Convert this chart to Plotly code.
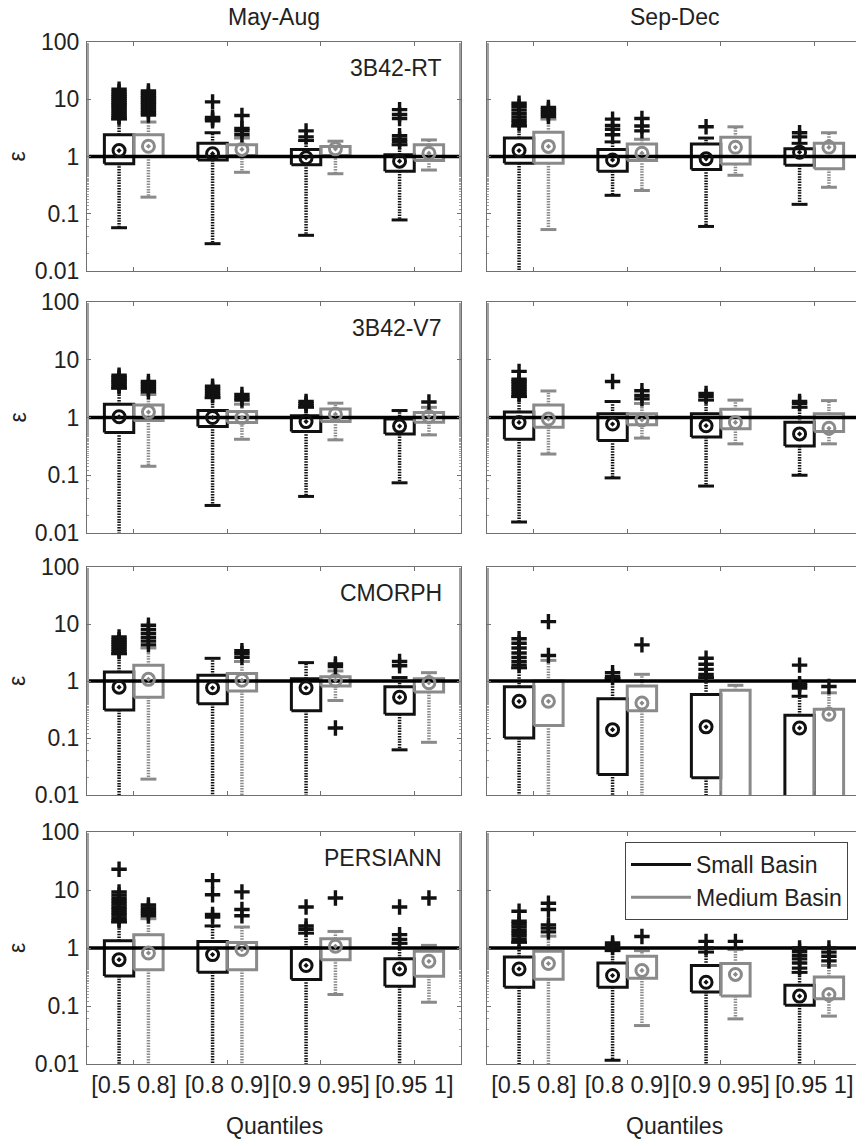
import plotly.graph_objects as go

W, H = 856, 1139
FONT = "Liberation Sans, Arial, Helvetica, sans-serif"

# ---------------- data ----------------
seasons = ["May-Aug", "Sep-Dec"]
products = ["3B42-RT", "3B42-V7", "CMORPH", "PERSIANN"]
quantile_labels = ["[0.5 0.8]", "[0.8 0.9]", "[0.9 0.95]", "[0.95 1]"]
basins = ["Small Basin", "Medium Basin"]
y_tick_vals = [0.01, 0.1, 1, 10, 100]
y_tick_text = ["0.01", "0.1", "1", "10", "100"]

# lo = lower whisker, q1, med, q3, hi = upper whisker, out = outliers ("+")
# (values below 0.01 fall off the bottom of the axis, as in the original)
rt_may_small = dict(
    lo=[0.057, 0.030, 0.042, 0.078], q1=[0.75, 0.87, 0.72, 0.55],
    med=[1.27, 1.12, 0.95, 0.83], q3=[2.4, 1.7, 1.32, 1.07], hi=[4.5, 2.6, 1.9, 1.6],
    out=[[4.8, 5.2, 5.7, 6.2, 6.8, 7.4, 8.0, 8.7, 9.5, 10.3, 11.2, 12.2, 13.5, 15.0],
         [4.2, 4.5, 4.8, 9.0], [2.2, 2.8], [1.8, 2.0, 2.3, 4.6, 5.4, 6.6]])
rt_may_medium = dict(
    lo=[0.195, 0.53, 0.50, 0.58], q1=[1.0, 1.04, 1.04, 0.85],
    med=[1.51, 1.33, 1.36, 1.14], q3=[2.4, 1.6, 1.5, 1.6], hi=[4.0, 2.1, 1.85, 1.95],
    out=[[5.3, 5.8, 6.5, 7.2, 8.0, 8.8, 9.7, 10.6, 11.6, 12.8, 14.0],
         [2.4, 2.8, 3.1, 5.2], [], []])
rt_sep_small = dict(
    lo=[0.005, 0.21, 0.06, 0.146], q1=[0.76, 0.55, 0.59, 0.70],
    med=[1.27, 0.87, 0.91, 1.19], q3=[2.1, 1.32, 1.66, 1.36], hi=[3.4, 1.8, 2.1, 1.7],
    out=[[3.8, 4.3, 4.9, 5.6, 6.5, 7.5, 8.5], [2.4, 3.0, 3.5, 4.5], [3.3], [2.2, 2.6]])
rt_sep_medium = dict(
    lo=[0.053, 0.255, 0.47, 0.29], q1=[0.76, 0.85, 0.74, 0.61],
    med=[1.5, 1.14, 1.45, 1.45], q3=[2.66, 1.66, 2.17, 1.71], hi=[4.5, 2.0, 3.3, 2.6],
    out=[[5.0, 5.5, 6.0, 6.6, 7.2], [2.8, 3.4, 4.6], [], []])

v7_may_small = dict(
    lo=[0.005, 0.030, 0.043, 0.074], q1=[0.55, 0.70, 0.57, 0.52],
    med=[1.03, 1.0, 0.85, 0.71], q3=[1.7, 1.32, 1.07, 0.94], hi=[3.2, 2.2, 1.5, 1.32],
    out=[[3.4, 3.7, 4.0, 4.3, 4.6, 5.0, 5.4], [2.4, 2.6, 2.9, 3.2, 3.5],
         [1.6, 1.75, 1.9], []])
v7_may_medium = dict(
    lo=[0.143, 0.42, 0.41, 0.50], q1=[0.89, 0.82, 0.85, 0.83],
    med=[1.24, 1.0, 1.14, 1.04], q3=[1.65, 1.27, 1.41, 1.22], hi=[2.5, 1.7, 1.77, 1.5],
    out=[[2.8, 3.1, 3.4, 3.8, 4.2], [2.0, 2.2, 2.5], [], [1.85]])
v7_sep_small = dict(
    lo=[0.0155, 0.09, 0.065, 0.10], q1=[0.42, 0.40, 0.46, 0.32],
    med=[0.82, 0.77, 0.72, 0.52], q3=[1.24, 1.16, 1.16, 0.83], hi=[2.3, 1.89, 2.0, 1.5],
    out=[[2.5, 2.8, 3.1, 3.4, 3.8, 4.2, 4.6, 6.3], [4.2], [2.3, 2.6], [1.75, 1.9]])
v7_sep_medium = dict(
    lo=[0.233, 0.44, 0.35, 0.35], q1=[0.68, 0.75, 0.64, 0.57],
    med=[0.94, 0.91, 0.82, 0.65], q3=[1.65, 1.16, 1.39, 1.16], hi=[2.88, 1.75, 2.0, 1.96],
    out=[[], [2.1, 2.4, 2.9], [], []])

cm_may_small = dict(
    lo=[0.005, 0.005, 0.005, 0.062], q1=[0.31, 0.40, 0.30, 0.26],
    med=[0.78, 0.76, 0.76, 0.52], q3=[1.44, 1.26, 1.1, 0.79], hi=[3.0, 2.5, 2.1, 1.15],
    out=[[3.3, 3.6, 4.0, 4.4, 4.8, 5.3, 5.9], [], [], [1.85, 2.2]])
cm_may_medium = dict(
    lo=[0.019, 0.005, 0.455, 0.084], q1=[0.52, 0.67, 0.82, 0.64],
    med=[1.07, 1.03, 1.03, 0.93], q3=[1.89, 1.35, 1.19, 1.1], hi=[3.8, 2.2, 1.5, 1.4],
    out=[[4.3, 5.0, 5.8, 6.8, 8.0, 9.5], [2.6, 3.0, 3.4], [0.15, 1.8, 2.0], []])
cm_sep_small = dict(
    lo=[0.005, 0.005, 0.005, 0.005], q1=[0.10, 0.023, 0.020, 0.005],
    med=[0.44, 0.14, 0.157, 0.15], q3=[0.79, 0.49, 0.58, 0.25], hi=[1.7, 1.1, 1.15, 0.54],
    out=[[1.9, 2.2, 2.6, 3.1, 3.8, 4.6, 5.5], [1.2, 1.4], [1.3, 1.6, 1.97, 2.5],
         [0.75, 0.82, 0.9, 1.9]])
cm_sep_medium = dict(
    lo=[0.005, 0.005, 0.005, 0.005], q1=[0.165, 0.30, 0.005, 0.005],
    med=[0.44, 0.41, 0.004, 0.26], q3=[1.0, 0.82, 0.69, 0.32], hi=[2.3, 1.31, 0.84, 0.62],
    out=[[2.8, 11.0], [4.3], [], [0.8]])

pe_may_small = dict(
    lo=[0.005, 0.005, 0.005, 0.005], q1=[0.33, 0.38, 0.285, 0.22],
    med=[0.63, 0.77, 0.5, 0.435], q3=[1.34, 1.30, 1.0, 0.65], hi=[2.8, 2.4, 1.8, 1.2],
    out=[[3.0, 3.3, 3.7, 4.1, 4.6, 5.1, 5.7, 6.4, 7.2, 8.2, 9.3, 22.8],
         [3.4, 3.8, 8.3, 14.5], [2.1, 2.4, 5.1], [1.4, 1.7, 5.1]])
pe_may_medium = dict(
    lo=[0.005, 0.005, 0.158, 0.116], q1=[0.42, 0.42, 0.63, 0.325],
    med=[0.82, 0.94, 1.07, 0.59], q3=[1.69, 1.25, 1.45, 0.88], hi=[3.2, 2.3, 1.93, 1.11],
    out=[[3.6, 4.0, 4.4, 4.9, 5.5], [3.6, 4.6, 9.3], [7.3], [7.3]])
pe_sep_small = dict(
    lo=[0.005, 0.0116, 0.005, 0.005], q1=[0.21, 0.21, 0.175, 0.103],
    med=[0.435, 0.335, 0.257, 0.148], q3=[0.70, 0.55, 0.50, 0.228], hi=[1.25, 0.9, 0.85, 0.38],
    out=[[1.4, 1.6, 1.8, 2.0, 2.3, 2.6, 2.9, 4.3], [1.02, 1.12, 1.22], [1.0, 1.3],
         [0.45, 0.55, 0.65, 0.75, 0.88, 1.0]])
pe_sep_medium = dict(
    lo=[0.005, 0.046, 0.06, 0.067], q1=[0.29, 0.30, 0.148, 0.133],
    med=[0.54, 0.41, 0.35, 0.158], q3=[0.88, 0.72, 0.54, 0.317], hi=[1.6, 0.9, 0.94, 0.5],
    out=[[1.9, 2.2, 2.5, 4.6, 5.9], [1.58], [1.3], [0.6, 0.72, 0.85, 1.0]])

panel_data = [
    [(rt_may_small, rt_may_medium), (rt_sep_small, rt_sep_medium)],
    [(v7_may_small, v7_may_medium), (v7_sep_small, v7_sep_medium)],
    [(cm_may_small, cm_may_medium), (cm_sep_small, cm_sep_medium)],
    [(pe_may_small, pe_may_medium), (pe_sep_small, pe_sep_medium)],
]

# ---------------- layout geometry (pixels) ----------------
COL_X = [(87, 461), (487, 856)]
ROW_Y = [(42, 271), (302, 533), (567, 795), (832, 1064)]
UNIT = 93.5  # pixels per category
BOX_W = 0.314
CAP_HALF = 0.085
COLORS = ["#111111", "#8a8a8a"]
AXIS_COLOR = "#707070"
MINOR_COLOR = "#a0a0a0"
TXT = "#222222"
FS = 23

fig = go.Figure()
layout = dict(
    width=W, height=H, autosize=False,
    margin=dict(l=0, r=0, t=0, b=0, pad=0, autoexpand=False),
    paper_bgcolor="white", plot_bgcolor="white",
    font=dict(family=FONT, size=FS, color=TXT),
    showlegend=True,
)
annotations = []

for r in range(4):
    for c in range(2):
        n = r * 2 + c + 1
        xa = "x" if n == 1 else f"x{n}"
        ya = "y" if n == 1 else f"y{n}"
        xk = "xaxis" if n == 1 else f"xaxis{n}"
        yk = "yaxis" if n == 1 else f"yaxis{n}"
        px0, px1 = COL_X[c]
        py0, py1 = ROW_Y[r]
        xmax = 0.5 + (px1 - px0) / UNIT
        layout[xk] = dict(
            domain=[px0 / W, px1 / W], anchor=ya, range=[0.5, xmax],
            tickmode="array", tickvals=[1, 2, 3, 4],
            ticktext=quantile_labels if r == 3 else [""] * 4,
            showticklabels=(r == 3), ticks="inside", ticklen=4, tickcolor=AXIS_COLOR,
            showline=True, linecolor=AXIS_COLOR, linewidth=1, mirror="ticks",
            showgrid=False, zeroline=False, fixedrange=True, automargin=False,
            tickfont=dict(size=23.5, family=FONT, color=TXT), ticklabelstandoff=0,
        )
        layout[yk] = dict(
            domain=[1 - py1 / H, 1 - py0 / H], anchor=xa, type="log", range=[-2, 2],
            tickmode="array", tickvals=y_tick_vals, ticktext=y_tick_text,
            showticklabels=(c == 0), ticks="inside", ticklen=4, tickcolor=AXIS_COLOR,
            minor=dict(ticks="inside", ticklen=2, tickcolor=MINOR_COLOR, showgrid=False),
            showline=True, linecolor=AXIS_COLOR, linewidth=1,
            mirror=("ticks" if c == 0 else False),
            showgrid=False, zeroline=False, fixedrange=True, automargin=False,
            tickfont=dict(size=FS, family=FONT, color=TXT), ticklabelstandoff=2,
        )

        for b in range(2):
            st = panel_data[r][c][b]
            col = COLORS[b]
            off = (-0.5 if b == 0 else 0.5) * BOX_W
            bx, by, wx, wy, cx, cy = ([] for _ in range(6))
            for i in range(len(quantile_labels)):
                ctr = i + 1 + off
                x0, x1 = ctr - BOX_W / 2, ctr + BOX_W / 2
                bx += [x0, x1, x1, x0, x0, None]
                by += [st["q1"][i], st["q1"][i], st["q3"][i], st["q3"][i], st["q1"][i], None]
                wx += [ctr, ctr, None, ctr, ctr, None]
                wy += [st["q3"][i], st["hi"][i], None, st["q1"][i], st["lo"][i], None]
                cx += [ctr - CAP_HALF, ctr + CAP_HALF, None, ctr - CAP_HALF, ctr + CAP_HALF, None]
                cy += [st["hi"][i], st["hi"][i], None, st["lo"][i], st["lo"][i], None]
            fig.add_trace(go.Scatter(
                x=wx, y=wy, xaxis=xa, yaxis=ya, mode="lines", showlegend=False,
                hoverinfo="skip", line=dict(color=col, width=3.5, dash="1.5px,1.2px")))
            fig.add_trace(go.Scatter(
                x=bx, y=by, xaxis=xa, yaxis=ya, mode="lines", name=basins[b],
                legendgroup=basins[b], showlegend=(n == 1),
                line=dict(color=col, width=3)))
            fig.add_trace(go.Scatter(
                x=cx, y=cy, xaxis=xa, yaxis=ya, mode="lines", showlegend=False,
                hoverinfo="skip", line=dict(color=col, width=3)))
        # reference line at epsilon = 1
        fig.add_trace(go.Scatter(
            x=[0.5, 4.5], y=[1, 1], xaxis=xa, yaxis=ya, mode="lines",
            showlegend=False, hoverinfo="skip", line=dict(color="#000000", width=3.5)))
        for b in range(2):
            st = panel_data[r][c][b]
            col = COLORS[b]
            off = (-0.5 if b == 0 else 0.5) * BOX_W
            mx = [i + 1 + off for i in range(len(quantile_labels))]
            ox, oy = [], []
            for i in range(len(quantile_labels)):
                ox += [i + 1 + off] * len(st["out"][i])
                oy += st["out"][i]
            fig.add_trace(go.Scatter(
                x=mx, y=st["med"], xaxis=xa, yaxis=ya, mode="markers", showlegend=False,
                marker=dict(symbol="circle-open-dot", size=12, color=col,
                            line=dict(width=3, color=col))))
            fig.add_trace(go.Scatter(
                x=ox, y=oy, xaxis=xa, yaxis=ya, mode="markers", showlegend=False,
                marker=dict(symbol="cross-thin", size=11, color="#111111",
                            line=dict(width=3.4, color="#111111"))))

        if c == 0:
            # product label
            annotations.append(dict(
                text=products[r], xref=f"{xa} domain", yref=f"{ya} domain",
                x=0.955, y=1 - 26 / (py1 - py0), xanchor="right", yanchor="middle",
                showarrow=False, font=dict(size=FS, family=FONT, color=TXT)))
            # y-axis title (epsilon)
            annotations.append(dict(
                text="ε", xref="paper", yref="paper", x=17 / W,
                y=1 - (py0 + py1) / 2 / H, xanchor="center", yanchor="middle",
                textangle=-90, showarrow=False, font=dict(size=FS, family=FONT, color=TXT)))

for c in range(2):
    px0, px1 = COL_X[c]
    pc = (px0 + (px0 + 4 * UNIT)) / 2
    annotations.append(dict(
        text=seasons[c], xref="paper", yref="paper", x=pc / W, y=1 - 17 / H,
        xanchor="center", yanchor="middle", showarrow=False,
        font=dict(size=FS, family=FONT, color=TXT)))
    annotations.append(dict(
        text="Quantiles", xref="paper", yref="paper", x=pc / W, y=1 - 1126 / H,
        xanchor="center", yanchor="middle", showarrow=False,
        font=dict(size=FS, family=FONT, color=TXT)))

layout["annotations"] = annotations
layout["legend"] = dict(
    x=625 / W, y=1 - 842 / H, xanchor="left", yanchor="top",
    bgcolor="white", bordercolor="#444444", borderwidth=1,
    font=dict(size=FS, family=FONT, color=TXT), itemwidth=60, tracegroupgap=0,
)
fig.update_layout(**layout)
fig.write_html(
    "out.html",
    config={"displayModeBar": False},
    post_script="document.body.style.margin='0px';document.body.style.overflow='hidden';",
)
